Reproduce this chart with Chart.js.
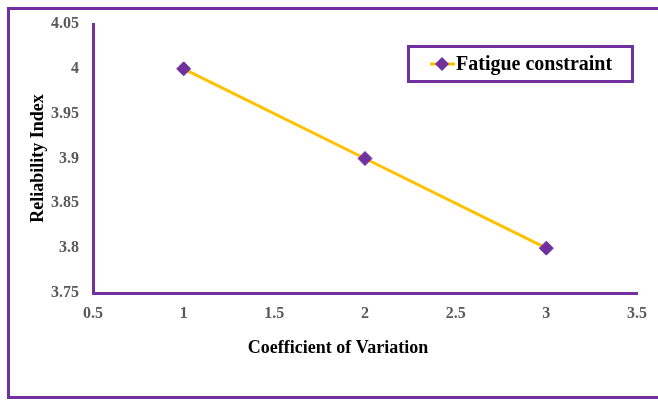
<!DOCTYPE html>
<html lang="en">
<head>
    <meta charset="UTF-8">
    <title>Reliability Index vs Coefficient of Variation</title>
    <script src="https://cdn.jsdelivr.net/npm/chart.js"></script>
    <style>
        body { margin: 0; background: #fff; }
        #wrap { width: 658px; height: 401px; }
    </style>
</head>
<body>
    <div id="wrap"><canvas id="relChart" width="658" height="401"></canvas></div>

    <script>
        // data
        var cov = [1, 2, 3];
        var reliability = [4.0, 3.9, 3.8];
        var seriesName = 'Fatigue constraint';
        var xTitle = 'Coefficient of Variation';
        var yTitle = 'Reliability Index';

        var purple = '#7030A0';
        var gold = '#FFC000';
        var tickGray = '#595959';
        var serif = '"Liberation Serif", "Times New Roman", serif';

        // outer frame (open on the right, like the source), x title (sits left of centre) + boxed legend
        var framePlugin = {
            id: 'frame',
            afterDraw: function (chart) {
                var c = chart.ctx;
                c.save();
                c.strokeStyle = purple;
                c.lineWidth = 3;
                c.beginPath();
                c.moveTo(658, 8.5);
                c.lineTo(8.5, 8.5);
                c.lineTo(8.5, 397.5);
                c.lineTo(658, 397.5);
                c.stroke();

                c.fillStyle = '#000';
                c.font = 'bold 18px ' + serif;
                c.textAlign = 'center';
                c.textBaseline = 'middle';
                c.fillText(xTitle, 338, 348);

                // legend
                var ds = chart.data.datasets[0];
                c.strokeRect(408.5, 46.5, 224, 35);
                c.strokeStyle = ds.borderColor;
                c.lineWidth = 3;
                c.beginPath();
                c.moveTo(430, 64);
                c.lineTo(455, 64);
                c.stroke();
                c.fillStyle = ds.pointBackgroundColor;
                c.beginPath();
                c.moveTo(442, 57);
                c.lineTo(449, 64);
                c.lineTo(442, 71);
                c.lineTo(435, 64);
                c.closePath();
                c.fill();
                c.fillStyle = '#000';
                c.font = 'bold 20px ' + serif;
                c.textAlign = 'left';
                c.fillText(ds.label, 456, 65);
                c.restore();
            }
        };

        var ctx = document.getElementById('relChart').getContext('2d');
        var points = cov.map(function (x, i) { return { x: x, y: reliability[i] }; });

        var relChart = new Chart(ctx, {
            type: 'line',
            data: {
                datasets: [{
                    label: seriesName,
                    data: points,
                    borderColor: gold,
                    borderWidth: 3,
                    pointStyle: 'rectRot',
                    pointRadius: 7,
                    pointHoverRadius: 7,
                    pointBackgroundColor: purple,
                    pointBorderColor: purple,
                    pointBorderWidth: 1,
                    fill: false,
                    tension: 0
                }]
            },
            options: {
                responsive: false,
                animation: false,
                events: [],
                layout: { padding: { left: 10, top: 24, right: 18, bottom: 8 } },
                plugins: {
                    legend: { display: false },
                    tooltip: { enabled: false }
                },
                scales: {
                    x: {
                        type: 'linear',
                        min: 0.5,
                        max: 3.5,
                        ticks: {
                            stepSize: 0.5,
                            padding: 11,
                            color: tickGray,
                            font: { family: serif, size: 16, weight: 'bold' },
                            callback: function (v) { return +v.toFixed(1); }
                        },
                        grid: { display: false, drawTicks: false },
                        border: { display: true, color: purple, width: 3 },
                        afterFit: function (scale) { scale.height = 100; }
                    },
                    y: {
                        min: 3.75,
                        max: 4.05,
                        ticks: {
                            stepSize: 0.05,
                            padding: 14,
                            color: tickGray,
                            font: { family: serif, size: 16, weight: 'bold' },
                            callback: function (v) { return +v.toFixed(2); }
                        },
                        grid: { display: false, drawTicks: false },
                        border: { display: true, color: purple, width: 3 },
                        title: {
                            display: true,
                            text: yTitle,
                            color: '#000',
                            font: { family: serif, size: 18, weight: 'bold' },
                            padding: { top: 18, bottom: 0 }
                        },
                        afterFit: function (scale) { scale.width = 83; }
                    }
                }
            },
            plugins: [framePlugin]
        });
    </script>
</body>
</html>
